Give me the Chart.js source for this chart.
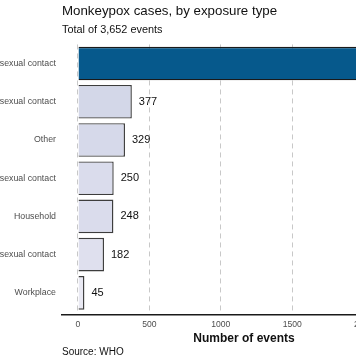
<!DOCTYPE html>
<html><head><meta charset="utf-8">
<script src="https://cdn.jsdelivr.net/npm/chart.js@4"></script>
<style>
html,body{margin:0;padding:0;width:356px;height:364px;overflow:hidden;background:#fff;}
#wrap{position:absolute;left:-100px;top:0;width:540px;height:364px;}
</style></head><body>
<div id="wrap"><canvas id="c" width="540" height="364"></canvas></div>
<script>
const categories = [
  'Party setting with sexual contact',
  'Bar or club with sexual contact',
  'Other',
  'Large event with sexual contact',
  'Household',
  'Sauna with sexual contact',
  'Workplace'
];
const values = [2221, 377, 329, 250, 248, 182, 45];
const barColors = ['#06598c', '#d3d7e8', '#d6d9ea', '#dadcec', '#dadcec', '#dfe0ee', '#e9e9f3'];
const barBorders = ['#1a1a1a', '#3d3d3d', '#3d3d3d', '#3d3d3d', '#3d3d3d', '#3d3d3d', '#3d3d3d'];
const xTicks = [0, 500, 1000, 1500, 2000];
const titleText = 'Monkeypox cases, by exposure type';
const subtitleText = 'Total of 3,652 events';
const xTitle = 'Number of events';
const sourceText = 'Source: WHO';
const FONT = '"Liberation Sans", Arial, Helvetica, sans-serif';

const extras = {
  id: 'extras',
  afterDatasetsDraw(chart) {
    const ctx = chart.ctx;
    const meta = chart.getDatasetMeta(0);
    ctx.save();
    ctx.font = '11px ' + FONT;
    ctx.fillStyle = '#111';
    ctx.textAlign = 'left';
    ctx.textBaseline = 'middle';
    meta.data.forEach((bar, i) => {
      ctx.fillText(String(values[i]), bar.x + 7, bar.y);
    });
    ctx.restore();
  },
  afterDraw(chart) {
    const ctx = chart.ctx;
    const a = chart.chartArea;
    ctx.save();
    ctx.strokeStyle = '#1a1a1a';
    ctx.lineWidth = 1.4;
    ctx.beginPath();
    ctx.moveTo(a.left - 1, a.bottom + 2.7);
    ctx.lineTo(chart.width, a.bottom + 2.7);
    ctx.stroke();
    ctx.font = '10px ' + FONT;
    ctx.fillStyle = '#111';
    ctx.textAlign = 'left';
    ctx.textBaseline = 'middle';
    ctx.fillText(sourceText, a.left, 352.7);
    ctx.restore();
  }
};

new Chart(document.getElementById('c'), {
  type: 'bar',
  data: {
    labels: categories,
    datasets: [{
      data: values,
      backgroundColor: barColors,
      borderColor: barBorders,
      borderWidth: 1.4,
      barPercentage: 0.88,
      categoryPercentage: 1
    }]
  },
  options: {
    indexAxis: 'y',
    responsive: false,
    animation: false,
    devicePixelRatio: 1,
    layout: { padding: { top: 0, right: 14, bottom: 18.5, left: 0 } },
    plugins: {
      legend: { display: false },
      tooltip: { enabled: false },
      title: {
        display: true, text: titleText, align: 'start', fullSize: false,
        color: '#111', font: { family: FONT, size: 13.3, weight: 'normal' },
        padding: { top: 3.6, bottom: 0 }
      },
      subtitle: {
        display: true, text: subtitleText, align: 'start', fullSize: false,
        color: '#111', font: { family: FONT, size: 10.9, weight: 'normal' },
        padding: { top: 3.8, bottom: 8.0 }
      }
    },
    scales: {
      x: {
        type: 'linear', min: -112, max: 2437,
        afterBuildTicks: s => { s.ticks = xTicks.map(v => ({ value: v })); },
        afterFit: s => { s.height = 33.5; },
        grid: { color: '#c8c8c8', lineWidth: 1, drawTicks: false },
        border: { display: false, dash: [5, 4] },
        ticks: {
          color: '#4d4d4d', font: { family: FONT, size: 8.6 }, padding: 7.5,
          callback: v => String(v)
        },
        title: {
          display: true, text: xTitle, color: '#111',
          font: { family: FONT, size: 12, weight: 'bold' },
          padding: { top: 0, bottom: 0 }
        }
      },
      y: {
        grid: { display: false, drawTicks: false },
        border: { display: false },
        ticks: { color: '#4d4d4d', font: { family: FONT, size: 8.8 }, padding: 6 },
        afterFit: s => { s.width = 162; }
      }
    }
  },
  plugins: [extras]
});
</script>
</body></html>
